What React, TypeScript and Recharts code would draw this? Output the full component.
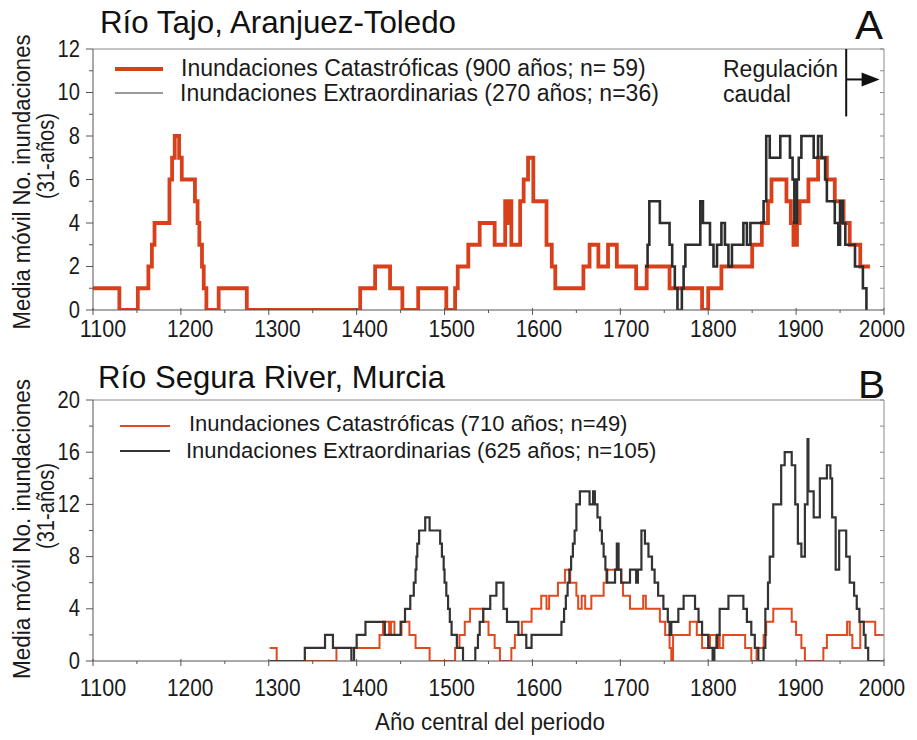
import React from 'react';
import { LineChart, Line, XAxis, YAxis, ReferenceLine } from 'recharts';

const FONT = '"Liberation Sans", Arial, Helvetica, sans-serif';
const AXIS = '#555';
const FRAME = '#8a8a8a';
const RED_TOP = '#d8401c';
const BLACK_TOP = '#2d2d2d';
const RED_BOT = '#e04a1f';
const BLACK_BOT = '#333333';

// X axis ticks (years)
const xTicks = [1100, 1150, 1200, 1250, 1300, 1350, 1400, 1450, 1500, 1550, 1600, 1650, 1700, 1750, 1800, 1850, 1900, 1950, 2000];
const topYTicks = [0, 1, 2, 3, 4, 5, 6, 7, 8, 9, 10, 11, 12];
const botYTicks = [0, 2, 4, 6, 8, 10, 12, 14, 16, 18, 20];

// Río Tajo – Inundaciones Catastróficas (step start years and values)
const tajoCatYears = [1100, 1130, 1151, 1163, 1167, 1170, 1187, 1190, 1193, 1198, 1201, 1216, 1219, 1221, 1224, 1226, 1229, 1243, 1275, 1404, 1421, 1438, 1452, 1470, 1502, 1512, 1515, 1527, 1540, 1557, 1569, 1572, 1574, 1576, 1586, 1590, 1595, 1601, 1616, 1622, 1626, 1658, 1665, 1675, 1686, 1696, 1718, 1730, 1756, 1793, 1800, 1815, 1850, 1861, 1868, 1872, 1889, 1894, 1897, 1901, 1904, 1914, 1925, 1935, 1944, 1954, 1961, 1973, 1984];
const tajoCatValues = [1, 0, 1, 2, 3, 4, 6, 7, 8, 7, 6, 5, 4, 3, 2, 1, 0, 1, 0, 1, 2, 1, 0, 1, 0, 1, 2, 3, 4, 3, 5, 4, 5, 3, 5, 6, 7, 5, 3, 2, 1, 2, 3, 2, 3, 2, 1, 2, 1, 0, 1, 2, 3, 4, 5, 6, 5, 4, 3, 4, 5, 6, 7, 6, 5, 4, 3, 2, 2];

// Río Tajo – Inundaciones Extraordinarias
const tajoExtYears = [1728, 1731, 1733, 1745, 1756, 1759, 1762, 1765, 1770, 1772, 1774, 1791, 1794, 1802, 1806, 1810, 1815, 1819, 1823, 1827, 1840, 1844, 1848, 1863, 1866, 1870, 1882, 1893, 1896, 1898, 1901, 1903, 1906, 1920, 1925, 1929, 1933, 1935, 1944, 1948, 1950, 1953, 1956, 1967, 1976, 1980];
const tajoExtValues = [2, 3, 5, 4, 3, 2, 1, 0, 1, 2, 3, 5, 4, 3, 2, 3, 4, 3, 2, 3, 4, 3, 4, 5, 8, 7, 8, 7, 6, 4, 6, 7, 8, 7, 8, 7, 6, 5, 4, 3, 5, 4, 3, 2, 1, 0];

// Río Segura – Inundaciones Catastróficas
const seguraCatYears = [1301, 1309, 1377, 1426, 1430, 1437, 1439, 1443, 1451, 1460, 1467, 1483, 1512, 1517, 1523, 1529, 1544, 1550, 1557, 1563, 1576, 1580, 1588, 1599, 1610, 1616, 1619, 1629, 1637, 1643, 1650, 1652, 1656, 1660, 1667, 1681, 1684, 1701, 1703, 1711, 1726, 1729, 1745, 1751, 1756, 1758, 1760, 1779, 1787, 1793, 1802, 1809, 1811, 1813, 1817, 1842, 1849, 1855, 1863, 1866, 1874, 1895, 1900, 1906, 1910, 1931, 1935, 1958, 1961, 1964, 1973, 1990, 2000];
const seguraCatValues = [1, 0, 1, 2, 3, 2, 3, 2, 3, 2, 1, 0, 1, 2, 3, 4, 3, 2, 1, 0, 1, 2, 3, 4, 5, 4, 5, 6, 7, 6, 5, 4, 5, 4, 5, 6, 7, 6, 5, 4, 5, 4, 3, 2, 1, 0, 2, 3, 2, 1, 2, 1, 2, 1, 2, 1, 0, 1, 2, 3, 4, 3, 2, 1, 0, 1, 2, 3, 2, 1, 3, 2, 2];

// Río Segura – Inundaciones Extraordinarias
const seguraExtYears = [1301, 1341, 1364, 1373, 1394, 1397, 1400, 1410, 1432, 1450, 1455, 1461, 1465, 1467, 1468, 1469, 1471, 1478, 1483, 1495, 1497, 1499, 1500, 1502, 1504, 1506, 1508, 1514, 1521, 1535, 1538, 1540, 1544, 1552, 1559, 1567, 1571, 1584, 1593, 1599, 1633, 1636, 1638, 1640, 1642, 1644, 1646, 1648, 1650, 1654, 1665, 1669, 1671, 1674, 1677, 1679, 1681, 1683, 1685, 1694, 1696, 1698, 1701, 1711, 1718, 1720, 1724, 1728, 1732, 1736, 1739, 1743, 1749, 1754, 1756, 1758, 1766, 1772, 1785, 1789, 1793, 1800, 1805, 1807, 1810, 1813, 1823, 1840, 1844, 1849, 1853, 1857, 1863, 1865, 1868, 1870, 1874, 1883, 1887, 1895, 1899, 1902, 1906, 1910, 1913, 1914, 1920, 1927, 1935, 1939, 1941, 1945, 1949, 1957, 1961, 1966, 1969, 1972, 1977, 1979, 1982, 2000];
const seguraExtValues = [0, 1, 2, 1, 0, 1, 2, 3, 2, 3, 4, 5, 6, 7, 8, 9, 10, 11, 10, 9, 8, 7, 6, 5, 4, 3, 2, 1, 0, 1, 2, 3, 4, 5, 6, 4, 3, 2, 1, 2, 3, 4, 5, 6, 7, 8, 9, 10, 12, 13, 12, 13, 12, 11, 10, 9, 8, 7, 6, 7, 9, 7, 6, 7, 6, 7, 10, 9, 8, 7, 6, 5, 4, 3, 2, 3, 4, 5, 4, 3, 2, 1, 0, 1, 2, 4, 5, 4, 3, 2, 1, 0, 1, 4, 6, 8, 12, 15, 16, 15, 12, 9, 8, 12, 17, 13, 11, 14, 15, 14, 11, 7, 10, 8, 6, 5, 4, 3, 2, 1, 0, 0];

const toSteps = (years: number[], values: number[]) => years.map((x, i) => ({ x, v: values[i] }));

const tajoCat = toSteps(tajoCatYears, tajoCatValues);
const tajoExt = toSteps(tajoExtYears, tajoExtValues);
const seguraCat = toSteps(seguraCatYears, seguraCatValues);
const seguraExt = toSteps(seguraExtYears, seguraExtValues);

const labelShift = (year: number) => (year >= 2000 ? -2 : 10 - ((year - 1100) / 100) * 0.7);

const makeXTick = (labelDy: number) => (props: any) => {
  const { x, y, payload } = props;
  const major = payload.value % 100 === 0;
  const label = String(payload.value);
  return (
    <g>
      <line x1={x} x2={x} y1={y - (major ? 2 : 0)} y2={y + (major ? 5 : 3)} stroke={AXIS} strokeWidth={1} />
      {major && (
        <text
          x={x + labelShift(payload.value)}
          y={y + labelDy}
          textAnchor="middle"
          fontSize={24}
          fill="#1a1a1a"
          fontFamily={FONT}
          textLength={label.length * 11.6}
          lengthAdjust="spacingAndGlyphs"
        >
          {label}
        </text>
      )}
    </g>
  );
};

const makeYTick = (labelEvery: number) => (props: any) => {
  const { x, y, payload } = props;
  const major = payload.value % labelEvery === 0;
  const label = String(payload.value);
  return (
    <g>
      <line x1={x - (major ? 7 : 4)} x2={x} y1={y} y2={y} stroke={AXIS} strokeWidth={1} />
      {major && (
        <text
          x={x - 13}
          y={y + 7.5}
          textAnchor="end"
          fontSize={23}
          fill="#1a1a1a"
          fontFamily={FONT}
          textLength={label.length * 11.2}
          lengthAdjust="spacingAndGlyphs"
        >
          {label}
        </text>
      )}
    </g>
  );
};

const rightTick = (props: any) => {
  const { x, y } = props;
  return <line x1={x - 4} x2={x} y1={y} y2={y} stroke={FRAME} strokeWidth={1} />;
};

const arrowShape = (props: any) => {
  const { x1, y1, x2, y2 } = props;
  return (
    <g>
      <line x1={x1} y1={y1} x2={x2 - 12} y2={y2} stroke="#111" strokeWidth={2} />
      <polygon points={`${x2},${y2} ${x2 - 18},${y2 - 7} ${x2 - 18},${y2 + 7}`} fill="#111" />
    </g>
  );
};

const plainLine = (props: any) => {
  const { x1, y1, x2, y2 } = props;
  return <line x1={x1} y1={y1} x2={x2} y2={y2} stroke="#111" strokeWidth={2} />;
};

const TopChart = () => (
  <LineChart width={917} height={345} margin={{ top: 49, right: 0, bottom: 0, left: 0 }}>
    <XAxis
      type="number"
      dataKey="x"
      domain={[1100, 2000]}
      ticks={xTicks}
      interval={0}
      allowDataOverflow
      height={35}
      tickSize={0}
      tickMargin={0}
      tickLine={false}
      axisLine={{ stroke: AXIS, strokeWidth: 1 }}
      tick={makeXTick(27)}
    />
    <YAxis
      yAxisId="left"
      type="number"
      domain={[0, 12]}
      ticks={topYTicks}
      interval={0}
      allowDataOverflow
      width={93}
      tickSize={0}
      tickMargin={0}
      tickLine={false}
      axisLine={{ stroke: AXIS, strokeWidth: 1 }}
      tick={makeYTick(2)}
    />
    <YAxis
      yAxisId="right"
      orientation="right"
      type="number"
      domain={[0, 12]}
      ticks={topYTicks}
      interval={0}
      allowDataOverflow
      width={33}
      tickSize={0}
      tickMargin={0}
      tickLine={false}
      axisLine={{ stroke: FRAME, strokeWidth: 1 }}
      tick={rightTick}
    />
    <ReferenceLine yAxisId="left" y={12} stroke={FRAME} strokeWidth={1} />
    <Line
      yAxisId="left"
      data={tajoCat}
      dataKey="v"
      type="stepAfter"
      stroke={RED_TOP}
      strokeWidth={3.8}
      dot={false}
      activeDot={false}
      isAnimationActive={false}
    />
    <Line
      yAxisId="right"
      data={tajoExt}
      dataKey="v"
      type="stepAfter"
      stroke={BLACK_TOP}
      strokeWidth={2.6}
      dot={false}
      activeDot={false}
      isAnimationActive={false}
    />
    <ReferenceLine
      yAxisId="left"
      segment={[{ x: 1957, y: 12 }, { x: 1957, y: 8.9 }]}
      shape={plainLine}
      ifOverflow="visible"
    />
    <ReferenceLine
      yAxisId="left"
      segment={[{ x: 1957, y: 10.6 }, { x: 1995, y: 10.6 }]}
      shape={arrowShape}
      ifOverflow="visible"
    />
  </LineChart>
);

const BottomChart = () => (
  <LineChart width={917} height={340} margin={{ top: 40, right: 0, bottom: 0, left: 0 }}>
    <XAxis
      type="number"
      dataKey="x"
      domain={[1100, 2000]}
      ticks={xTicks}
      interval={0}
      allowDataOverflow
      height={39}
      tickSize={0}
      tickMargin={0}
      tickLine={false}
      axisLine={{ stroke: AXIS, strokeWidth: 1 }}
      tick={makeXTick(35)}
    />
    <YAxis
      yAxisId="left"
      type="number"
      domain={[0, 20]}
      ticks={botYTicks}
      interval={0}
      allowDataOverflow
      width={93}
      tickSize={0}
      tickMargin={0}
      tickLine={false}
      axisLine={{ stroke: AXIS, strokeWidth: 1 }}
      tick={makeYTick(4)}
    />
    <YAxis
      yAxisId="right"
      orientation="right"
      type="number"
      domain={[0, 20]}
      ticks={botYTicks}
      interval={0}
      allowDataOverflow
      width={33}
      tickSize={0}
      tickMargin={0}
      tickLine={false}
      axisLine={{ stroke: FRAME, strokeWidth: 1 }}
      tick={rightTick}
    />
    <ReferenceLine yAxisId="left" y={20} stroke={FRAME} strokeWidth={1} />
    <Line
      yAxisId="left"
      data={seguraCat}
      dataKey="v"
      type="stepAfter"
      stroke={RED_BOT}
      strokeWidth={2}
      dot={false}
      activeDot={false}
      isAnimationActive={false}
    />
    <Line
      yAxisId="right"
      data={seguraExt}
      dataKey="v"
      type="stepAfter"
      stroke={BLACK_BOT}
      strokeWidth={2.2}
      dot={false}
      activeDot={false}
      isAnimationActive={false}
    />
  </LineChart>
);

const Overlay = () => (
  <svg width={917} height={740} style={{ position: 'absolute', left: 0, top: 0, pointerEvents: 'none' }} fontFamily={FONT}>
    {/* Titles */}
    <text x={100} y={33} fontSize={32} fill="#111" textLength={356} lengthAdjust="spacingAndGlyphs">Río Tajo, Aranjuez-Toledo</text>
    <text x={855} y={39} fontSize={40} fill="#111" textLength={28} lengthAdjust="spacingAndGlyphs">A</text>
    <text x={98} y={388} fontSize={32} fill="#111" textLength={347} lengthAdjust="spacingAndGlyphs">Río Segura River, Murcia</text>
    <text x={858} y={398} fontSize={39} fill="#111" textLength={27} lengthAdjust="spacingAndGlyphs">B</text>

    {/* Top legend */}
    <line x1={115} x2={163} y1={69} y2={69} stroke={RED_TOP} strokeWidth={3.8} />
    <line x1={115} x2={163} y1={93} y2={93} stroke="#9a9a9a" strokeWidth={1.8} />
    <text x={181} y={76} fontSize={23} fill="#1a1a1a">Inundaciones Catastróficas (900 años; n= 59)</text>
    <text x={180} y={101} fontSize={23} fill="#1a1a1a">Inundaciones Extraordinarias (270 años; n=36)</text>
    <text x={723} y={77} fontSize={23} fill="#1a1a1a">Regulación</text>
    <text x={723} y={102} fontSize={23} fill="#1a1a1a">caudal</text>

    {/* Bottom legend */}
    <line x1={120} x2={170} y1={426} y2={426} stroke={RED_BOT} strokeWidth={2} />
    <line x1={120} x2={170} y1={451} y2={451} stroke={BLACK_BOT} strokeWidth={2.2} />
    <text x={189} y={431} fontSize={22} fill="#1a1a1a">Inundaciones Catastróficas (710 años; n=49)</text>
    <text x={186} y={458} fontSize={22} fill="#1a1a1a">Inundaciones Extraordinarias (625 años; n=105)</text>

    {/* Y axis titles */}
    <text x={22} y={182} fontSize={23} fill="#1a1a1a" textAnchor="middle" dominantBaseline="central" transform="rotate(-90 22 182)" textLength={295} lengthAdjust="spacingAndGlyphs">Media móvil No. inundaciones</text>
    <text x={46} y={156} fontSize={23} fill="#1a1a1a" textAnchor="middle" dominantBaseline="central" transform="rotate(-90 46 156)" textLength={86} lengthAdjust="spacingAndGlyphs">(31-años)</text>
    <text x={22} y={529} fontSize={23} fill="#1a1a1a" textAnchor="middle" dominantBaseline="central" transform="rotate(-90 22 529)" textLength={300} lengthAdjust="spacingAndGlyphs">Media móvil No. inundaciones</text>
    <text x={46} y={506} fontSize={23} fill="#1a1a1a" textAnchor="middle" dominantBaseline="central" transform="rotate(-90 46 506)" textLength={86} lengthAdjust="spacingAndGlyphs">(31-años)</text>

    {/* X axis title */}
    <text x={490} y={730} fontSize={23} fill="#1a1a1a" textAnchor="middle" textLength={230} lengthAdjust="spacingAndGlyphs">Año central del periodo</text>
  </svg>
);

export default function App() {
  return (
    <div style={{ position: 'absolute', left: 0, top: 0, width: 917, height: 740, background: '#fff', overflow: 'hidden' }}>
      <div style={{ position: 'absolute', left: 0, top: 0 }}>
        <TopChart />
      </div>
      <div style={{ position: 'absolute', left: 0, top: 360 }}>
        <BottomChart />
      </div>
      <Overlay />
    </div>
  );
}
